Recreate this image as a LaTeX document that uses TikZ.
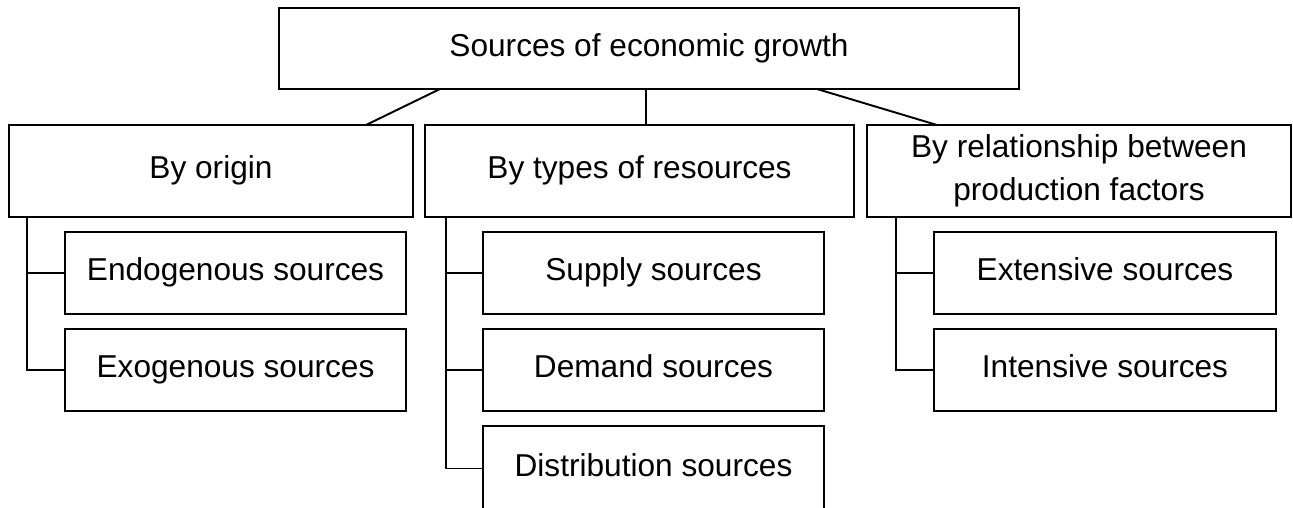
\documentclass[tikz,border=0pt]{standalone}
\usepackage{fontspec}
\setmainfont{Liberation Sans}
\usetikzlibrary{positioning}

\begin{document}
\begin{tikzpicture}[
    node distance=0.3cm and 0.24cm,
    every node/.style={font=\fontsize{18}{24.5}\selectfont, outer sep=0pt},
    oneline/.style={text height=0.9em, text depth=0em},
    head/.style={rectangle, draw=black, line width=1.1pt, minimum width=14.8cm, minimum height=1.62cm, inner sep=0pt, oneline},
    group/.style={rectangle, draw=black, line width=1.1pt, minimum height=1.84cm, align=center, inner sep=0pt},
    item/.style={rectangle, draw=black, line width=1.1pt, minimum width=6.82cm, minimum height=1.64cm, inner sep=0pt, oneline},
    link/.style={draw=black, line width=1.1pt}
]

\useasboundingbox (0,0) rectangle (25.86,-10.16);

\node[head] (top) at (12.98,-0.97) {Sources of economic growth};

\node[group, oneline, minimum width=8.58cm, below=0.72cm of top, xshift=-0.19cm] (types) {By types of resources};
\node[group, oneline, minimum width=8.08cm, left=of types] (origin) {By origin};
\node[group, minimum width=8.48cm, right=0.26cm of types] (relation) {By relationship between\\production factors};

\node[item, below right=0.3cm and 1.12cm of origin.south west] (endo) {Endogenous sources};
\node[item, below=of endo] (exo) {Exogenous sources};

\node[item, below right=0.3cm and 1.16cm of types.south west] (supply) {Supply sources};
\node[item, below=of supply] (demand) {Demand sources};
\node[item, minimum height=1.7cm, below=of demand] (distrib) {Distribution sources};

\node[item, minimum width=6.84cm, below right=0.3cm and 1.34cm of relation.south west] (ext) {Extensive sources};
\node[item, minimum width=6.84cm, below=of ext] (int) {Intensive sources};

\draw[link] ([xshift=3.22cm]top.south west) -- ([xshift=-0.94cm]origin.north east);
\draw[link] ([xshift=-0.06cm]top.south) -- ([xshift=0.13cm]types.north);
\draw[link] ([xshift=-4.04cm]top.south east) -- ([xshift=1.4cm]relation.north west);

\draw[link] ([xshift=0.36cm]origin.south west) |- (endo.west);
\draw[link] ([xshift=0.36cm]origin.south west) |- (exo.west);

\draw[link] ([xshift=0.42cm]types.south west) |- (supply.west);
\draw[link] ([xshift=0.42cm]types.south west) |- (demand.west);
\draw[link] ([xshift=0.42cm]types.south west) |- (distrib.west);

\draw[link] ([xshift=0.58cm]relation.south west) |- (ext.west);
\draw[link] ([xshift=0.58cm]relation.south west) |- (int.west);

\end{tikzpicture}
\end{document}
